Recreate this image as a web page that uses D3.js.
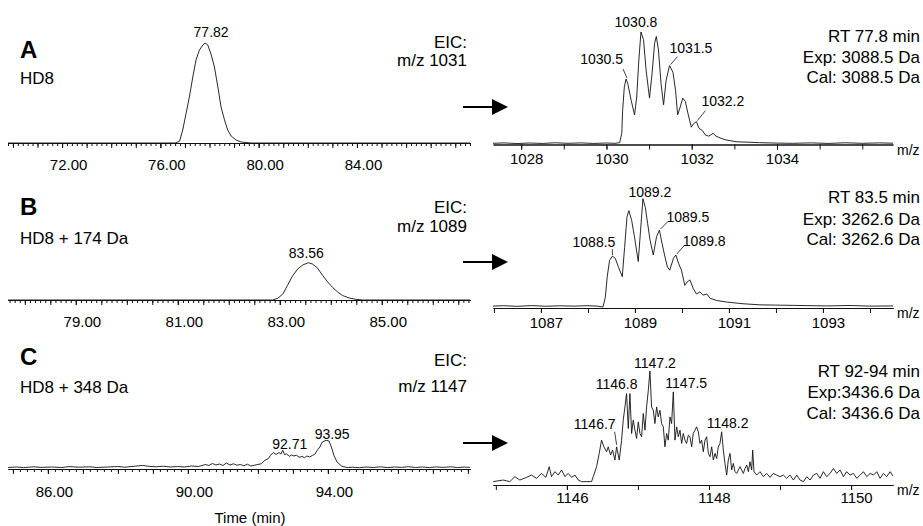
<!DOCTYPE html>
<html>
<head>
<meta charset="utf-8">
<script src="https://cdn.jsdelivr.net/npm/d3@7/dist/d3.min.js"></script>
<style>
body { margin: 0; background: #fff; }
svg text { font-family: "Liberation Sans", Arial, sans-serif; fill: #000; white-space: pre; }
</style>
</head>
<body>
<div id="chart"></div>
<script>
// extracted ion chromatograms: [time (min), intensity]
var eicA = [[69.8,0],[76.6,0],[76.78,1.7],[76.91,13],[77.05,30],[77.18,46],[77.32,66],[77.45,83],[77.59,93],[77.73,98],[77.82,100],
  [77.93,98],[78.06,89],[78.20,76],[78.34,56],[78.47,36],[78.61,23],[78.74,13],[78.88,7],[79.08,3],[79.29,1],[79.69,0],[88.6,0]];
var eicB = [[77.67,0],[82.86,0],[82.96,1.7],[83.06,6],[83.15,14.5],[83.25,24],[83.35,31],[83.45,35],[83.56,37.3],[83.64,36],
  [83.74,32],[83.84,24.5],[83.94,18],[84.04,12.3],[84.14,7.8],[84.23,4.5],[84.36,2],[84.49,0.7],[84.63,0],[86.73,0]];
var eicC = [[84.86,0.5],[85.1,1.0],[85.3,0.4],[85.6,1.2],[85.8,0.6],[86.1,1.0],[86.4,0.5],[86.6,1.4],[86.9,0.8],[87.2,1.2],
  [87.4,0.5],[87.7,1.0],[88.0,1.5],[88.2,0.8],[88.5,1.8],[88.7,2.6],[88.9,1.6],[89.1,1.2],[89.3,1.8],[89.5,1.0],[89.7,1.5],
  [89.9,1.0],[90.1,2.0],[90.3,1.5],[90.5,3.5],[90.6,2.5],[90.7,4.5],[90.8,3.0],[90.9,4.0],[91.0,2.5],[91.1,5.0],[91.2,3.0],
  [91.3,4.2],[91.4,2.8],[91.5,3.5],[91.6,2.2],[91.7,3.8],[91.8,2.0],[91.9,2.8],[92.0,3.5],[92.1,4.3],[92.2,7.7],[92.3,9.5],
  [92.36,12.7],[92.44,15.5],[92.52,13.5],[92.6,15.5],[92.66,14],[92.71,17.7],[92.76,13.5],[92.82,14],[92.9,11.7],[92.96,13],
  [93.03,12],[93.1,12.8],[93.18,10.8],[93.26,11.5],[93.33,10.3],[93.4,12],[93.48,11],[93.56,12.7],[93.62,13.5],[93.7,18],
  [93.77,21],[93.84,26],[93.95,27.7],[94.03,27],[94.1,21],[94.17,12.7],[94.26,6],[94.4,1.7],[94.55,0.5],[94.7,0.8],[94.9,0.3],
  [95.1,1.0],[95.3,0.5],[95.5,1.2],[95.7,0.4],[95.9,1.0],[96.1,0.6],[96.3,1.3],[96.5,0.5],[96.7,1.0],[96.9,0.4],[97.1,1.1],
  [97.3,0.6],[97.5,1.2],[97.7,0.5],[97.9,0.9],[98.06,0.6]];

// mass spectra: [m/z, relative intensity %]
var specA = [[1027.34,0.6],[1027.6,1.0],[1027.9,0.4],[1028.2,0.9],[1028.5,0.5],[1028.8,1.1],[1029.1,0.6],[1029.4,1.0],[1029.7,0.5],
  [1030.0,0.9],[1030.2,0.6],[1030.31,1.2],[1030.36,9.5],[1030.38,30],[1030.42,51],[1030.46,58],[1030.50,54],[1030.58,39],
  [1030.66,26],[1030.71,42],[1030.76,75],[1030.81,100],[1030.87,93],[1030.93,66],[1031.01,41],[1031.07,63],[1031.13,90],
  [1031.17,96],[1031.22,84],[1031.28,54],[1031.34,35],[1031.40,57],[1031.48,70],[1031.56,64],[1031.62,48],[1031.67,26],
  [1031.73,33],[1031.79,41],[1031.85,38],[1031.92,26],[1031.99,15],[1032.04,18],[1032.11,20],[1032.17,14],[1032.25,12],
  [1032.32,8],[1032.40,7],[1032.50,9.5],[1032.57,7],[1032.69,5],[1032.81,3.6],[1033.04,2],[1033.59,1.2],[1034.0,0.8],
  [1034.37,0.6],[1034.8,1.0],[1035.2,0.5],[1035.6,1.1],[1036.0,0.6],[1036.4,1.0],[1036.72,0.7]];
var specB = [[1085.98,0.8],[1086.2,1.2],[1086.5,0.6],[1086.8,1.3],[1087.1,0.7],[1087.4,1.1],[1087.7,0.8],[1088.0,1.2],[1088.2,0.8],
  [1088.32,0],[1088.37,9],[1088.41,28],[1088.46,43],[1088.52,47],[1088.58,45],[1088.64,38],[1088.73,28],[1088.78,55],
  [1088.83,83],[1088.87,89],[1088.93,80],[1089.00,62],[1089.07,42],[1089.12,71],[1089.17,100],[1089.22,92],[1089.27,77],
  [1089.32,62],[1089.39,48],[1089.46,65],[1089.52,71],[1089.57,60],[1089.64,46],[1089.69,37],[1089.74,34],[1089.82,45],
  [1089.87,48],[1089.93,40],[1089.99,34],[1090.06,20],[1090.11,23],[1090.17,25],[1090.24,17],[1090.31,12],[1090.38,14],
  [1090.45,11],[1090.53,12],[1090.60,8],[1090.74,6],[1090.95,4.6],[1091.30,3],[1091.66,2],[1092.37,1.5],[1093.08,1],
  [1093.6,1.4],[1094.0,0.8],[1094.49,1]];
var specC = [[1144.962,2.1],[1145.103,3.5],[1145.197,2.1],[1145.268,6.5],[1145.338,3.5],[1145.432,5.9],[1145.502,7.9],
  [1145.573,5.0],[1145.643,9.4],[1145.704,5.9],[1145.751,15.3],[1145.784,6.5],[1145.831,10.9],[1145.878,7.9],[1145.925,12.4],
  [1145.972,6.5],[1146.019,9.4],[1146.066,5.9],[1146.113,7.9],[1146.160,3.5],[1146.207,2.1],[1146.277,2.1],[1146.347,2.1],
  [1146.371,6.5],[1146.418,15.3],[1146.455,27.1],[1146.488,38.8],[1146.521,32.9],[1146.559,28.5],[1146.582,32.9],
  [1146.615,25.6],[1146.643,30.0],[1146.676,21.2],[1146.700,32.9],[1146.737,21.2],[1146.770,38.8],[1146.793,56.5],
  [1146.817,68.2],[1146.840,80.0],[1146.864,49.1],[1146.887,80.0],[1146.911,44.7],[1146.934,56.5],[1146.958,47.6],
  [1146.981,40.3],[1147.005,55.0],[1147.028,44.7],[1147.052,41.8],[1147.075,62.4],[1147.099,47.6],[1147.122,68.2],
  [1147.146,82.9],[1147.169,100],[1147.192,68.2],[1147.216,65.3],[1147.239,53.5],[1147.263,68.2],[1147.286,59.4],
  [1147.310,65.3],[1147.333,53.5],[1147.357,50.6],[1147.380,32.9],[1147.404,44.7],[1147.427,38.8],[1147.451,59.4],
  [1147.474,53.5],[1147.498,81.5],[1147.521,38.8],[1147.545,50.6],[1147.568,41.8],[1147.592,47.6],[1147.615,35.9],
  [1147.638,44.7],[1147.662,38.8],[1147.685,35.9],[1147.709,43.2],[1147.732,41.8],[1147.756,32.9],[1147.779,44.7],
  [1147.803,47.6],[1147.826,50.6],[1147.850,46.2],[1147.873,35.9],[1147.897,38.8],[1147.920,28.5],[1147.944,38.8],
  [1147.967,41.8],[1147.991,27.1],[1148.014,24.1],[1148.038,32.9],[1148.061,21.2],[1148.085,27.1],[1148.108,22.6],
  [1148.131,32.9],[1148.155,35.9],[1148.178,46.2],[1148.202,30.0],[1148.225,18.2],[1148.249,7.9],[1148.272,21.2],
  [1148.296,27.1],[1148.319,12.4],[1148.343,18.2],[1148.366,10.9],[1148.390,9.4],[1148.437,15.3],[1148.484,9.4],
  [1148.507,13.8],[1148.531,16.8],[1148.554,10.9],[1148.577,19.7],[1148.601,12.4],[1148.615,30.0],[1148.634,10.9],
  [1148.671,7.9],[1148.718,10.9],[1148.765,6.5],[1148.812,9.4],[1148.859,5.9],[1148.906,9.4],[1148.953,7.9],[1149.000,6.5],
  [1149.047,7.9],[1149.094,5.0],[1149.141,7.9],[1149.188,3.5],[1149.235,7.9],[1149.282,3.5],[1149.329,2.1],[1149.376,6.5],
  [1149.423,3.5],[1149.469,7.9],[1149.516,9.4],[1149.563,5.0],[1149.610,10.9],[1149.657,6.5],[1149.704,9.4],[1149.751,13.8],
  [1149.798,9.4],[1149.845,12.4],[1149.892,6.5],[1149.939,10.9],[1149.986,7.9],[1150.033,9.4],[1150.080,5.0],[1150.127,7.9],
  [1150.174,10.9],[1150.221,6.5],[1150.268,9.4],[1150.315,7.9],[1150.362,10.9],[1150.408,5.0],[1150.455,9.4],[1150.502,6.5],
  [1150.549,10.9],[1150.59,7.0]];

// labelled peaks: [label, x of apex, intensity of apex]
var eicPeaksA = [['77.82', 77.82, 100]];
var eicPeaksB = [['83.56', 83.56, 37.3]];
var eicPeaksC = [['92.71', 92.71, 17.7], ['93.95', 93.95, 27.7]];
var specPeaksA = [['1030.5', 1030.46, 58], ['1030.8', 1030.81, 100], ['1031.5', 1031.48, 70], ['1032.2', 1032.11, 20]];
var specPeaksB = [['1088.5', 1088.52, 47], ['1089.2', 1089.17, 100], ['1089.5', 1089.52, 71], ['1089.8', 1089.87, 48]];
var specPeaksC = [['1146.7', 1146.70, 32.9], ['1146.8', 1146.84, 80], ['1147.2', 1147.169, 100], ['1147.5', 1147.498, 81.5], ['1148.2', 1148.178, 46.2]];

// tick labels
var eicTicksA = [72, 76, 80, 84];
var eicTicksB = [79, 81, 83, 85];
var eicTicksC = [86, 90, 94];
var specTicksA = [1028, 1030, 1032, 1034];
var specTicksB = [1087, 1089, 1091, 1093];
var specTicksC = [1146, 1148, 1150];

// panel texts
var panelLetters = ['A', 'B', 'C'];
var sampleNames = ['HD8', 'HD8 + 174 Da', 'HD8 + 348 Da'];
var eicTargets = ['m/z 1031', 'm/z 1089', 'm/z 1147'];
var rtInfo = [['RT 77.8 min', 'Exp: 3088.5 Da', 'Cal: 3088.5 Da'],
              ['RT 83.5 min', 'Exp: 3262.6 Da', 'Cal: 3262.6 Da'],
              ['RT 92-94 min', 'Exp:3436.6 Da', 'Cal: 3436.6 Da']];

var width = 923;
var height = 526;
var ink = '#111';

var svg = d3.select('#chart')
    .append('svg')
    .attr('width', width)
    .attr('height', height);

// layout of the three rows
var rows = [
  {eic: eicA, eicDomain: [69.8, 88.6], eicAxis: 143, eicZero: 143, eicTicks: eicTicksA, minor: 0.2, mid: 1, eicPeaks: eicPeaksA,
   eicLab: [['middle', 6, -6]], eicTickY: 27,
   spec: specA, specDomain: [1027.34, 1036.72], specAxis: 144.5, specZero: 144, specTop: 32, specTicks: specTicksA, specPeaks: specPeaksA,
   specLab: [['end', -3, -15, [1, -1, -3, -10]], ['middle', -5, -5], ['start', 0, -13, [1, -1, 8, -9]], ['start', 5, -16, [1, -1, 9, -11]]],
   specTickY: 19, letterY: 58, nameY: 84, eicY: [48, 66], rtY: [42, 63, 83], arrowY: 107},
  {eic: eicB, eicDomain: [77.67, 86.73], eicAxis: 300, eicZero: 300, eicTicks: eicTicksB, minor: 0.1, mid: 0.5, eicPeaks: eicPeaksB,
   eicLab: [['middle', -2, -5]], eicTickY: 27,
   spec: specB, specDomain: [1085.98, 1094.49], specAxis: 308, specZero: 307, specTop: 198.7, specTicks: specTicksB, specPeaks: specPeaksB,
   specLab: [['end', 3, -9, [0, -1, 0, -7]], ['middle', 7, -2], ['start', 7, -8, [1, -1, 8, -8]], ['start', 7, -9, [1, -1, 8, -9]]],
   specTickY: 20, letterY: 215, nameY: 244, eicY: [213, 232], rtY: [203, 225, 245], arrowY: 262},
  {eic: eicC, eicDomain: [84.86, 98.06], eicAxis: 469, eicZero: 468, eicTicks: eicTicksC, minor: 0.2, mid: 1, eicPeaks: eicPeaksC,
   eicLab: [['middle', 7, -1], ['middle', 6, -1]], eicTickY: 28,
   spec: specC, specDomain: [1144.96, 1150.59], specAxis: 485, specZero: 484, specTop: 371, specTicks: specTicksC, specPeaks: specPeaksC,
   specLab: [['end', -1, -18, [-2, -15, 0, -2]], ['middle', -10, -5], ['middle', 5, -3], ['start', -8, -4], ['middle', 6, -4]],
   specTickY: 18, letterY: 365, nameY: 393, eicY: [366, 392], rtY: [377, 398, 419], arrowY: 443}
];

function stepTicks(domain, step) {
  var lo = Math.ceil(domain[0] / step - 1e-9);
  var hi = Math.floor(domain[1] / step + 1e-9);
  return d3.range(lo, hi + 1).map(function(k) { return +(k * step).toFixed(3); });
}

function styleAxis(g) {
  g.attr('font-family', null).attr('font-size', null);
  g.select('.domain').attr('stroke', ink);
  g.selectAll('.tick line').attr('stroke', ink);
}

function drawLabels(g, x, y, peaks, pos, size) {
  peaks.forEach(function(pk, i) {
    var px = x(pk[1]);
    var py = y(pk[2]);
    var lp = pos[i];
    if (lp[3]) {
      g.append('line')
          .attr('x1', px + lp[3][0]).attr('y1', py + lp[3][1])
          .attr('x2', px + lp[3][2]).attr('y2', py + lp[3][3])
          .attr('stroke', ink)
          .attr('stroke-width', 0.8);
    }
    g.append('text')
        .attr('x', px + lp[1])
        .attr('y', py + lp[2])
        .attr('text-anchor', lp[0])
        .style('font-size', size + 'px')
        .text(pk[0]);
  });
}

function drawEic(row) {
  var g = svg.append('g');
  var x = d3.scaleLinear().domain(row.eicDomain).range([8, 470]);
  var y = d3.scaleLinear().domain([0, 100]).range([row.eicZero, row.eicZero - 100]);

  // dense minor ticks, then taller ticks, then labelled ticks
  g.append('g')
      .attr('transform', 'translate(0,' + row.eicAxis + ')')
      .call(d3.axisBottom(x).tickValues(stepTicks(row.eicDomain, row.minor)).tickSize(3).tickSizeOuter(0).tickFormat(''))
      .call(styleAxis);
  g.append('g')
      .attr('transform', 'translate(0,' + row.eicAxis + ')')
      .call(d3.axisBottom(x).tickValues(stepTicks(row.eicDomain, row.mid)).tickSize(5).tickSizeOuter(0).tickFormat(''))
      .call(styleAxis);
  var lab = g.append('g')
      .attr('transform', 'translate(0,' + row.eicAxis + ')')
      .call(d3.axisBottom(x).tickValues(row.eicTicks).tickSize(5).tickSizeOuter(0).tickFormat(d3.format('.2f')))
      .call(styleAxis);
  lab.selectAll('text')
      .attr('y', row.eicTickY)
      .attr('dy', 0)
      .attr('dx', 6)
      .style('font-size', '15px');

  var line = d3.line()
      .x(function(d) { return x(d[0]); })
      .y(function(d) { return y(d[1]); });

  g.append('path')
      .datum(row.eic)
      .attr('d', line)
      .attr('fill', 'none')
      .attr('stroke', ink)
      .attr('stroke-width', 0.9);

  drawLabels(g, x, y, row.eicPeaks, row.eicLab, 14);
}

function drawSpectrum(row) {
  var g = svg.append('g');
  var x = d3.scaleLinear().domain(row.specDomain).range([493, 893]);
  var y = d3.scaleLinear().domain([0, 100]).range([row.specZero, row.specTop]);

  g.append('g')
      .attr('transform', 'translate(0,' + row.specAxis + ')')
      .call(d3.axisBottom(x).tickValues(stepTicks(row.specDomain, 1)).tickSize(5).tickSizeOuter(0).tickFormat(''))
      .call(styleAxis);
  var lab = g.append('g')
      .attr('transform', 'translate(0,' + row.specAxis + ')')
      .call(d3.axisBottom(x).tickValues(row.specTicks).tickSize(5).tickSizeOuter(0).tickFormat(d3.format('d')))
      .call(styleAxis);
  lab.selectAll('text')
      .attr('y', row.specTickY)
      .attr('dy', 0)
      .attr('dx', 5)
      .style('font-size', '15px');

  g.append('text')
      .attr('x', 897)
      .attr('y', row.specAxis + 10)
      .style('font-size', '14px')
      .text('m/z');

  var line = d3.line()
      .x(function(d) { return x(d[0]); })
      .y(function(d) { return y(d[1]); });

  g.append('path')
      .datum(row.spec)
      .attr('d', line)
      .attr('fill', 'none')
      .attr('stroke', ink)
      .attr('stroke-width', 0.9);

  drawLabels(g, x, y, row.specPeaks, row.specLab, 14);
}

function drawTexts(row, i) {
  var g = svg.append('g');
  g.append('text')
      .attr('x', 20).attr('y', row.letterY)
      .style('font-size', '24px').style('font-weight', 'bold')
      .text(panelLetters[i]);
  g.append('text')
      .attr('x', 20).attr('y', row.nameY)
      .style('font-size', '17px')
      .text(sampleNames[i]);
  g.append('text')
      .attr('x', 467).attr('y', row.eicY[0])
      .attr('text-anchor', 'end')
      .style('font-size', '17px')
      .text('EIC:');
  g.append('text')
      .attr('x', 467).attr('y', row.eicY[1])
      .attr('text-anchor', 'end')
      .style('font-size', '17px')
      .text(eicTargets[i]);
  g.selectAll('.rt')
      .data(rtInfo[i])
      .enter()
      .append('text')
      .attr('class', 'rt')
      .attr('x', 920)
      .attr('y', function(d, k) { return row.rtY[k]; })
      .attr('text-anchor', 'end')
      .style('font-size', '17px')
      .text(function(d) { return d; });

  // arrow from chromatogram to spectrum
  g.append('line')
      .attr('x1', 463).attr('y1', row.arrowY)
      .attr('x2', 495).attr('y2', row.arrowY)
      .attr('stroke', '#000')
      .attr('stroke-width', 2);
  g.append('path')
      .attr('d', 'M492,' + (row.arrowY - 8) + 'L508,' + row.arrowY + 'L492,' + (row.arrowY + 8) + 'Z')
      .attr('fill', '#000');
}

rows.forEach(function(row, i) {
  drawEic(row);
  drawSpectrum(row);
  drawTexts(row, i);
});

svg.append('text')
    .attr('x', 250)
    .attr('y', 523)
    .attr('text-anchor', 'middle')
    .style('font-size', '15px')
    .text('Time (min)');
</script>
</body>
</html>
